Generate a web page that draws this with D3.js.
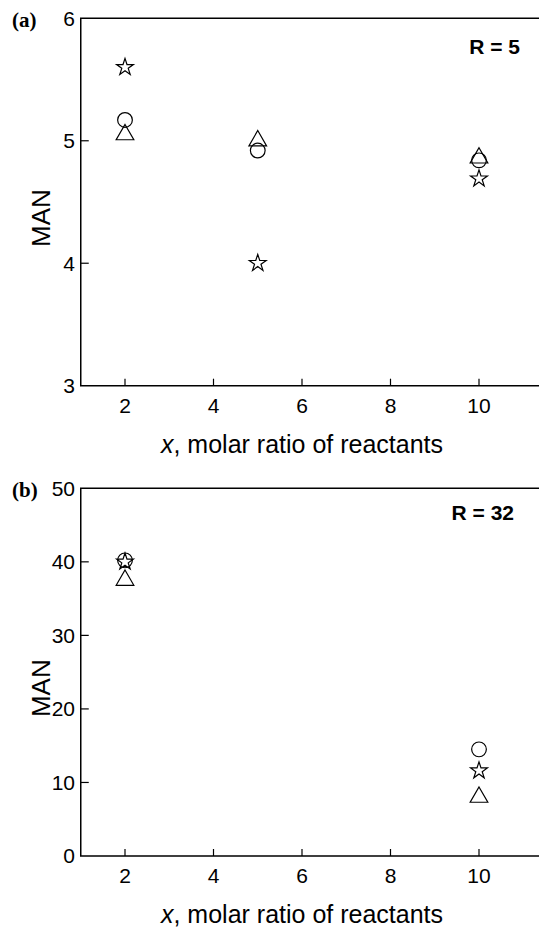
<!DOCTYPE html>
<html>
<head>
<meta charset="utf-8">
<script src="https://cdn.jsdelivr.net/npm/d3@7"></script>
<style>
  body { margin: 0; background: #fff; }
  svg { display: block; }
</style>
</head>
<body>
<div id="chart"></div>
<script>
// x values shared by both panels
const xValues = [2, 5, 10];
const xTicks = [2, 4, 6, 8, 10];

// panel (a), R = 5
const aCircle = [5.17, 4.92, 4.84];
const aTriangle = [5.05, 5.0, 4.86];
const aStar = [5.6, 4.0, 4.69];
const aTicks = [3, 4, 5, 6];

// panel (b), R = 32 (no point at x = 5)
const bX = [2, 10];
const bCircle = [40.2, 14.5];
const bTriangle = [37.5, 8.0];
const bStar = [40.0, 11.6];
const bTicks = [0, 10, 20, 30, 40, 50];

const width = 539, height = 928;

const svg = d3.select('#chart')
    .append('svg')
    .attr('width', width)
    .attr('height', height);

const x = d3.scaleLinear().domain([2, 10]).range([125, 479]);
const font = 'Liberation Sans, Arial, sans-serif';

function drawPanel(opts) {
    const y = d3.scaleLinear().domain(opts.yDomain).range([opts.bottom, opts.top]);
    const g = svg.append('g');
    const left = x(1);

    // frame: left, top, bottom lines
    g.append('path')
        .attr('d', `M${width},${opts.top}H${left}V${opts.bottom}H${width}`)
        .attr('fill', 'none')
        .attr('stroke', '#000')
        .attr('stroke-width', 1.5);

    // y ticks (inward)
    g.selectAll('.yt').data(opts.yTicks.filter(d => d !== opts.yDomain[0] && d !== opts.yDomain[1]))
        .join('line')
        .attr('x1', left).attr('x2', left + 8)
        .attr('y1', d => y(d)).attr('y2', d => y(d))
        .attr('stroke', '#000').attr('stroke-width', 1.2);

    g.selectAll('.yl').data(opts.yTicks)
        .join('text')
        .attr('x', 75)
        .attr('y', d => y(d))
        .attr('dy', '0.35em')
        .attr('text-anchor', 'end')
        .attr('font-family', font)
        .attr('font-size', 21)
        .text(d => d);

    // x ticks (inward)
    g.selectAll('.xt').data(xTicks)
        .join('line')
        .attr('x1', d => x(d)).attr('x2', d => x(d))
        .attr('y1', opts.bottom).attr('y2', opts.bottom - 7)
        .attr('stroke', '#000').attr('stroke-width', 1.2);

    g.selectAll('.xl').data(xTicks)
        .join('text')
        .attr('x', d => x(d))
        .attr('y', opts.bottom + 27)
        .attr('text-anchor', 'middle')
        .attr('font-family', font)
        .attr('font-size', 21)
        .text(d => d);

    // axis titles
    const xt = g.append('text')
        .attr('x', 302)
        .attr('y', opts.bottom + 67)
        .attr('text-anchor', 'middle')
        .attr('font-family', font)
        .attr('font-size', 25);
    xt.append('tspan').attr('font-style', 'italic').text('x');
    xt.append('tspan').text(', molar ratio of reactants');

    g.append('text')
        .attr('transform', `translate(50,${(opts.top + opts.bottom) / 2 + 16}) rotate(-90)`)
        .attr('text-anchor', 'middle')
        .attr('font-family', font)
        .attr('font-size', 26)
        .text('MAN');

    // panel letter and R label
    g.append('text')
        .attr('x', 12).attr('y', opts.top + 9)
        .attr('font-family', 'Liberation Serif, Times New Roman, serif')
        .attr('font-weight', 'bold')
        .attr('font-size', 21)
        .text(opts.letter);

    g.append('text')
        .attr('x', opts.rRight).attr('y', opts.top + opts.rDy)
        .attr('text-anchor', 'end')
        .attr('font-family', font)
        .attr('font-weight', 'bold')
        .attr('font-size', 21)
        .text(opts.rLabel);

    // markers
    const series = [
        { vals: opts.triangle, sym: d3.symbol(d3.symbolTriangle, 135) },
        { vals: opts.circle, sym: d3.symbol(d3.symbolCircle, 170) },
        { vals: opts.star, sym: d3.symbol(d3.symbolStar, 88) }
    ];
    series.forEach(s => {
        g.selectAll(null).data(opts.xs.map((d, i) => [d, s.vals[i]]))
            .join('path')
            .attr('transform', d => `translate(${x(d[0])},${y(d[1])})`)
            .attr('d', s.sym)
            .attr('fill', 'none')
            .attr('stroke', '#000')
            .attr('stroke-width', 1.2);
    });
}

drawPanel({
    top: 18.3, bottom: 385.7, yDomain: [3, 6], yTicks: aTicks,
    xs: xValues, circle: aCircle, triangle: aTriangle, star: aStar,
    letter: '(a)', rLabel: 'R = 5', rRight: 520, rDy: 36
});

drawPanel({
    top: 488.3, bottom: 856, yDomain: [0, 50], yTicks: bTicks,
    xs: bX, circle: bCircle, triangle: bTriangle, star: bStar,
    letter: '(b)', rLabel: 'R = 32', rRight: 514, rDy: 32
});
</script>
</body>
</html>
